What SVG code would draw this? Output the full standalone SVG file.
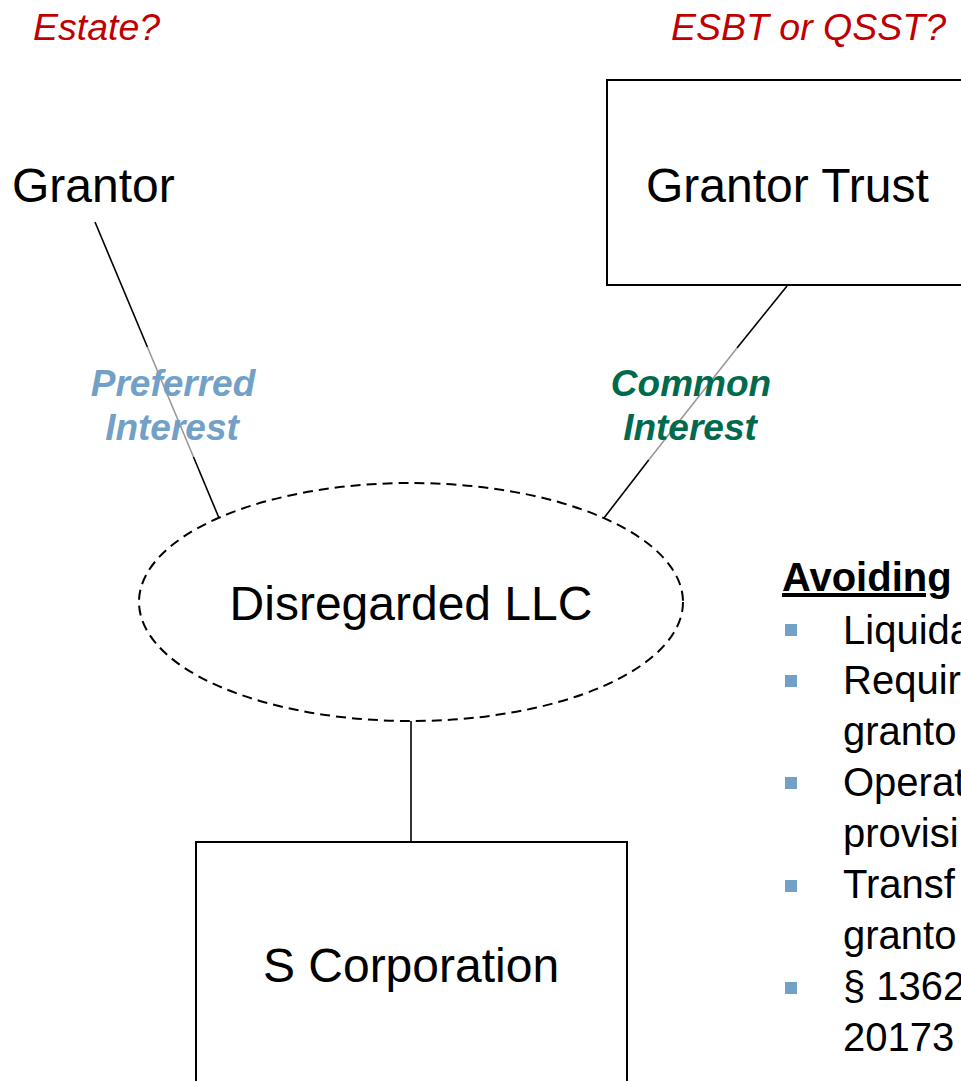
<svg xmlns="http://www.w3.org/2000/svg" width="961" height="1081" viewBox="0 0 961 1081">
<style>
text{font-family:"Liberation Sans",Arial,sans-serif}
.q{font-size:37.5px;font-style:italic;fill:#c00000}
.n{font-size:48px;fill:#000}
.lb{font-size:37px;font-weight:bold;font-style:italic;text-anchor:middle}
.box{fill:#fff;stroke:#000;stroke-width:2}
.ln{stroke:#000;stroke-width:1.6;fill:none}
.lg{stroke:#999;stroke-width:1.6;fill:none}
.b{font-size:40px;fill:#000}
.sq{fill:#72a0c6}
</style>
<rect width="961" height="1081" fill="#fff"/>
<text class="q" x="33" y="40">Estate?</text>
<text class="q" x="671" y="40">ESBT or QSST?</text>
<g id="connectors">
<line class="ln" x1="95" y1="222" x2="147.4" y2="347"/>
<line class="lg" x1="147.4" y1="347" x2="193.5" y2="457"/>
<line class="ln" x1="193.5" y1="457" x2="219" y2="518"/>
<line class="ln" x1="787" y1="286" x2="737" y2="348"/>
<line class="lg" x1="737" y1="348" x2="648.7" y2="460"/>
<line class="ln" x1="648.7" y1="460" x2="604" y2="518"/>
<line class="ln" x1="411" y1="721" x2="411" y2="842"/>
</g>
<g id="grantor"><text class="n" x="12" y="202">Grantor</text></g>
<g id="grantor-trust">
<rect class="box" x="607" y="80" width="370" height="205"/>
<text class="n" x="646" y="202">Grantor Trust</text>
</g>
<g id="llc">
<ellipse cx="411" cy="602" rx="272" ry="119" fill="none" stroke="#000" stroke-width="2" stroke-dasharray="10 6"/>
<text class="n" x="411" y="620" text-anchor="middle">Disregarded LLC</text>
</g>
<g id="s-corp">
<rect class="box" x="196" y="842" width="431" height="260"/>
<text class="n" x="411" y="982" text-anchor="middle">S Corporation</text>
</g>
<g id="label-preferred">
<text class="lb" x="173" y="396" fill="#72a0c6">Preferred</text>
<text class="lb" x="172" y="440" fill="#72a0c6">Interest</text>
</g>
<g id="label-common">
<text class="lb" x="691" y="396" fill="#006a4e">Common</text>
<text class="lb" x="690" y="440" fill="#006a4e">Interest</text>
</g>
<g id="avoiding">
<text class="b" x="782" y="591" font-weight="bold" text-decoration="underline">Avoiding</text>
<rect class="sq" x="785" y="624" width="12" height="12"/>
<text class="b" x="843" y="644">Liquida</text>
<rect class="sq" x="785" y="675" width="12" height="12"/>
<text class="b" x="843" y="694">Requir</text>
<text class="b" x="843" y="745">granto</text>
<rect class="sq" x="785" y="777" width="12" height="12"/>
<text class="b" x="843" y="796">Operat</text>
<text class="b" x="843" y="847">provisi</text>
<rect class="sq" x="785" y="880" width="12" height="12"/>
<text class="b" x="843" y="898">Transf</text>
<text class="b" x="843" y="949">granto</text>
<rect class="sq" x="785" y="982" width="12" height="12"/>
<text class="b" x="843" y="1000">§ 1362</text>
<text class="b" x="843" y="1051">20173</text>
</g>
</svg>
